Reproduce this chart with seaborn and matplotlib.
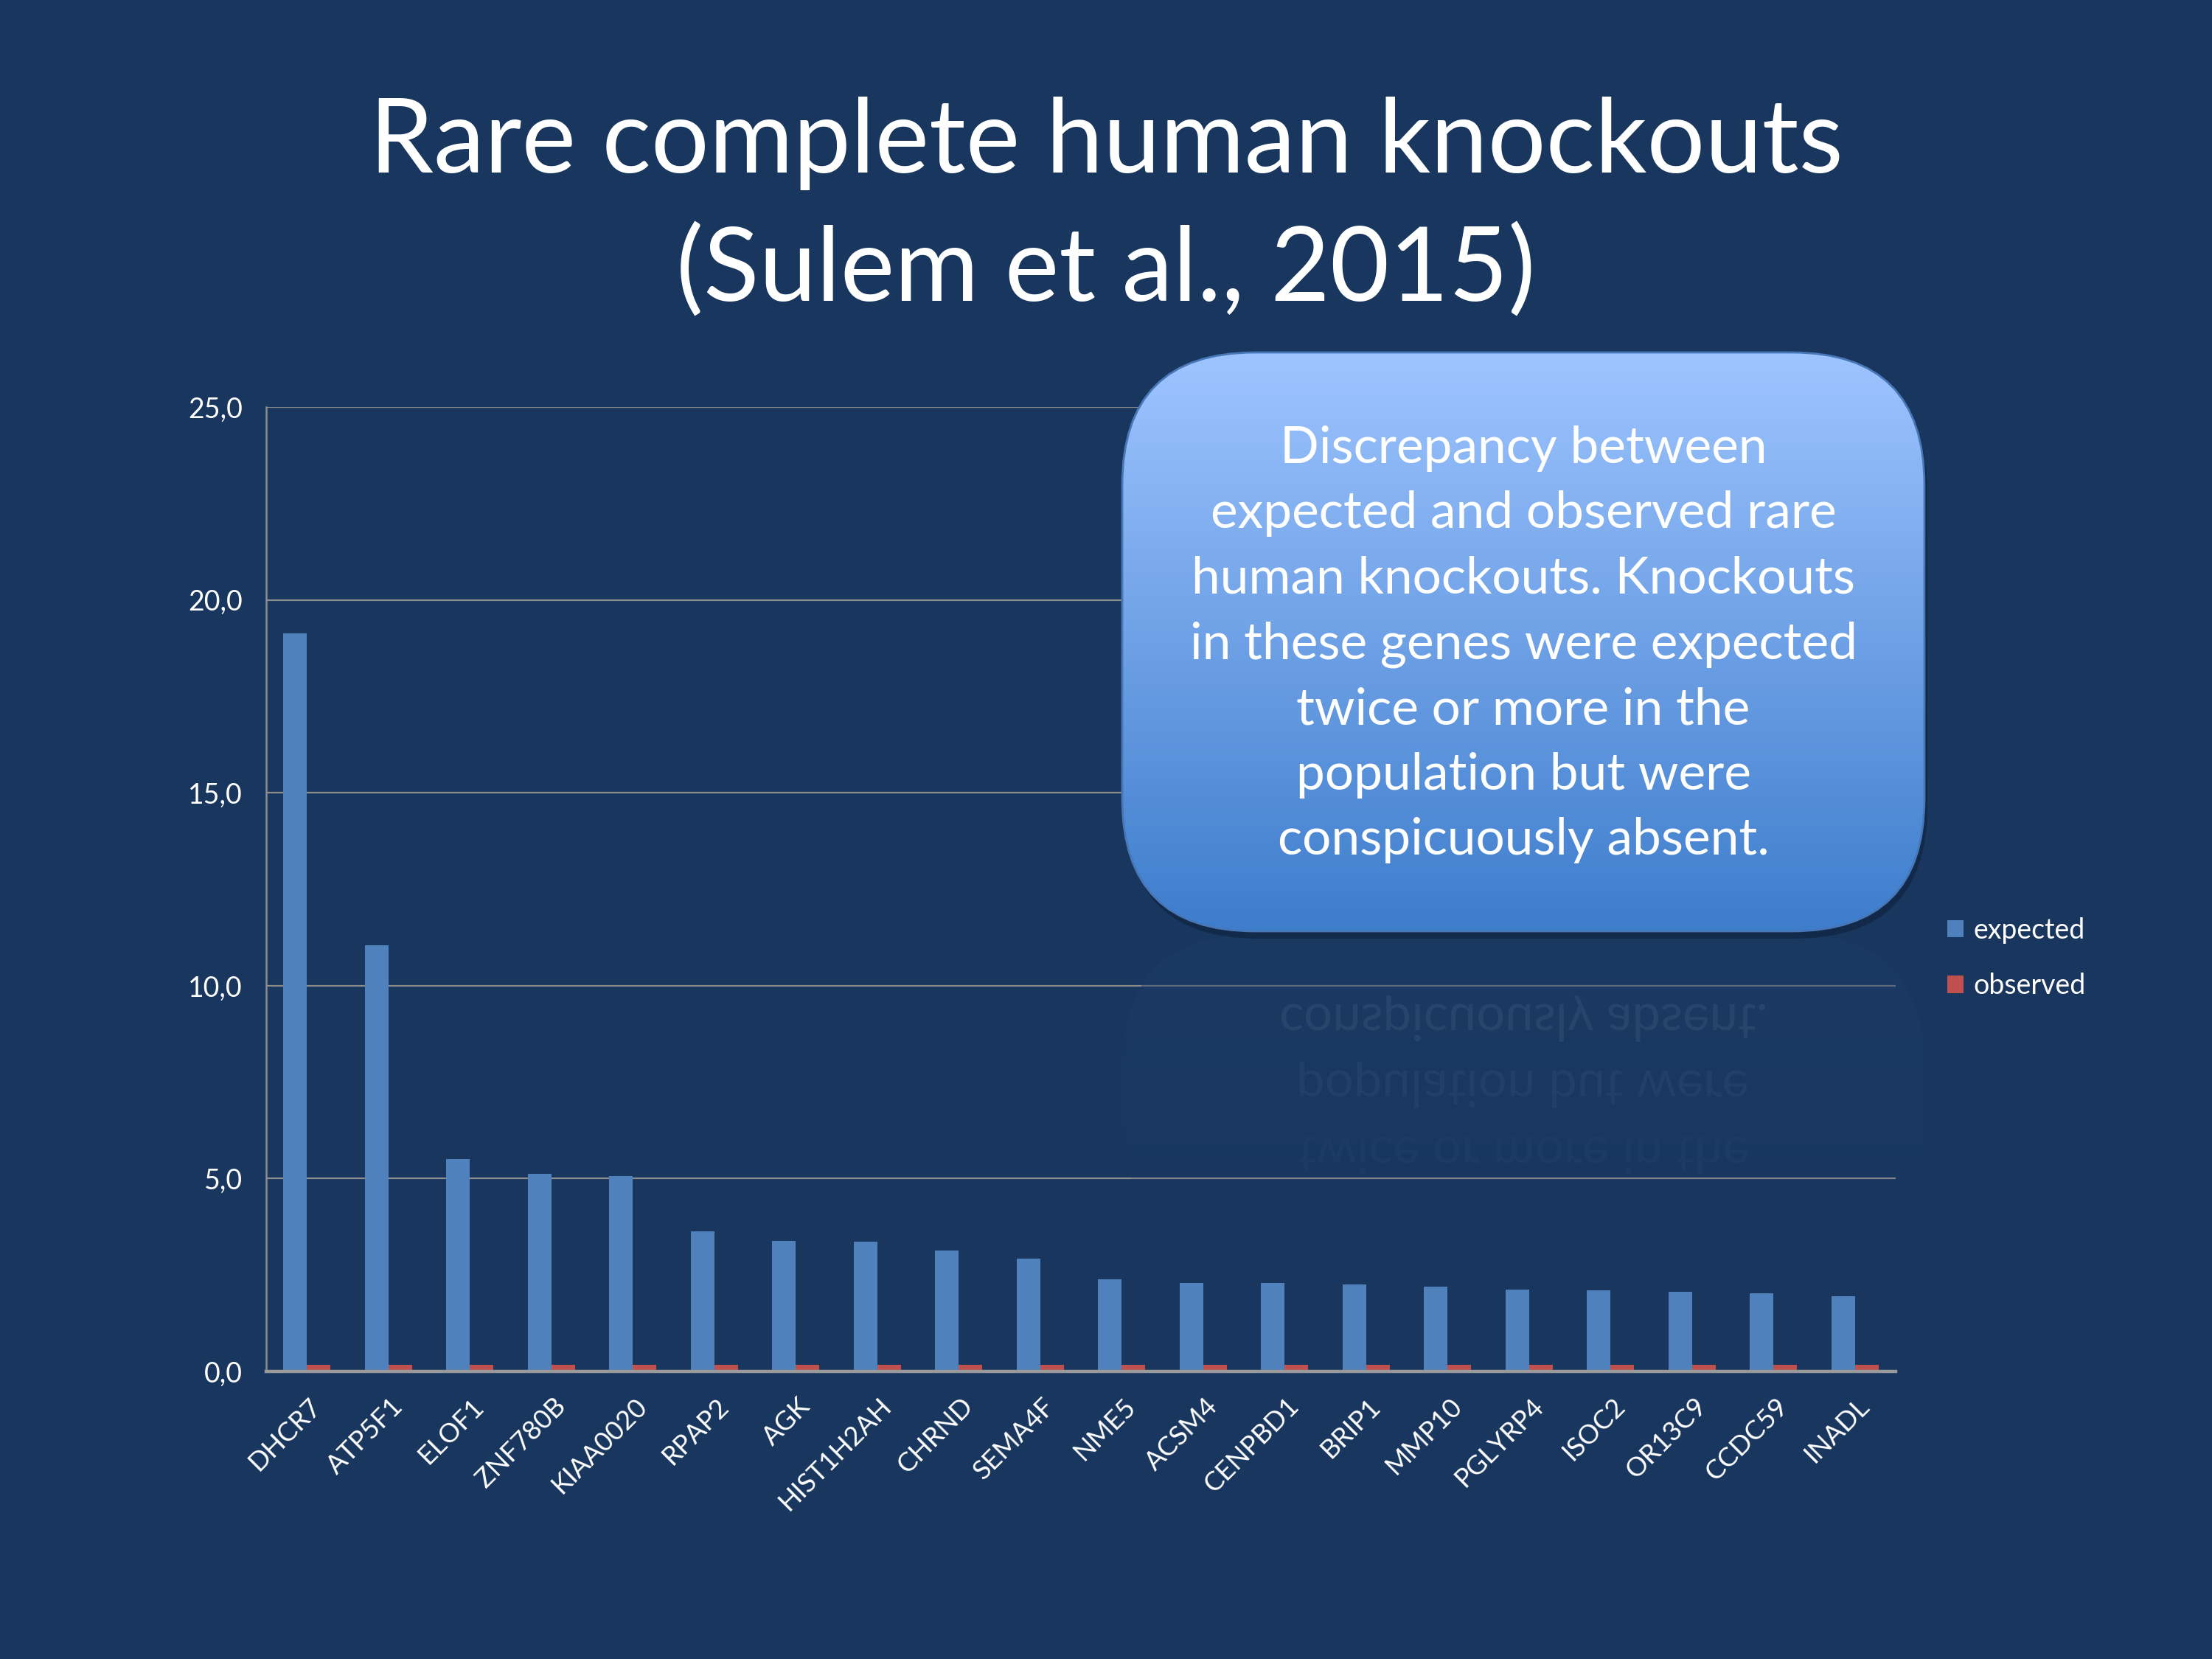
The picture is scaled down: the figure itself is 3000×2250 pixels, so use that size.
import numpy as np
import pandas as pd
import seaborn as sns
import matplotlib.pyplot as plt
from matplotlib.patches import FancyBboxPatch, Patch, PathPatch
from matplotlib.textpath import TextPath
from matplotlib.path import Path
from matplotlib.font_manager import FontProperties
from matplotlib.ticker import FuncFormatter, FixedLocator
from matplotlib.transforms import ScaledTranslation

# data
genes = ['DHCR7', 'ATP5F1', 'ELOF1', 'ZNF780B', 'KIAA0020', 'RPAP2', 'AGK',
         'HIST1H2AH', 'CHRND', 'SEMA4F', 'NME5', 'ACSM4', 'CENPBD1', 'BRIP1',
         'MMP10', 'PGLYRP4', 'ISOC2', 'OR13C9', 'CCDC59', 'INADL']
expected = [19.13, 11.05, 5.50, 5.12, 5.07, 3.64, 3.39, 3.36, 3.13, 2.93,
            2.38, 2.30, 2.29, 2.25, 2.20, 2.12, 2.10, 2.07, 2.02, 1.95]
observed = [0.18] * 20
series_names = ['expected', 'observed']
y_ticks = [0, 5, 10, 15, 20, 25]

title_text = 'Rare complete human knockouts\n(Sulem et al., 2015)'
box_lines = ['Discrepancy between', 'expected and observed rare',
             'human knockouts. Knockouts', 'in these genes were expected',
             'twice or more in the', 'population but were',
             'conspicuously absent.']

BG = '#18365e'
BLUE = '#4f81bd'
RED = '#c0504d'
GRID = '#8c8c8c'

df = pd.DataFrame({'gene': genes * 2,
                   'value': expected + observed,
                   'series': [series_names[0]] * 20 + [series_names[1]] * 20})

sns.set_style('white')
plt.rcParams['font.family'] = ['Lato', 'DejaVu Sans']

fig = plt.figure(figsize=(30, 22.5), dpi=100, facecolor=BG)
ax = fig.add_axes([361 / 3000, 1 - 1860 / 2250, 2210 / 3000, 1308 / 2250])
ax.set_facecolor(BG)

sns.barplot(data=df, x='gene', y='value', hue='series',
            palette=[BLUE, RED], width=0.58, gap=0, saturation=1,
            linewidth=0, edgecolor='none', ax=ax, legend=False, zorder=3)

ax.set_xlim(-0.5, len(genes) - 0.5)
ax.set_ylim(0, 25)
ax.yaxis.set_major_locator(FixedLocator(y_ticks))
ax.yaxis.set_major_formatter(FuncFormatter(lambda v, p: f'{v:.1f}'.replace('.', ',')))
ax.grid(axis='y', color=GRID, linewidth=1.6, zorder=0)
ax.set_axisbelow(True)
ax.set_xlabel('')
ax.set_ylabel('')

for s in ['top', 'right']:
    ax.spines[s].set_visible(False)
ax.spines['left'].set_color(GRID)
ax.spines['left'].set_linewidth(1.8)
ax.spines['bottom'].set_color('#9a9a9a')
ax.spines['bottom'].set_linewidth(3.2)
ax.spines['bottom'].set_zorder(4)

ax.tick_params(axis='y', colors=GRID, length=9, width=1.6, direction='out',
               labelcolor='white', labelsize=27, pad=14)
ax.set_xticks(np.arange(len(genes) + 1) - 0.5, minor=True)
ax.tick_params(axis='x', which='minor', colors=GRID, length=9, width=1.8,
               direction='out')
ax.tick_params(axis='x', which='major', length=0, labelcolor='white',
               labelsize=26, pad=30)
shift = ScaledTranslation(14 / 100, 0, fig.dpi_scale_trans)
for lab in ax.get_xticklabels():
    lab.set_rotation(45)
    lab.set_ha('right')
    lab.set_va('center')
    lab.set_rotation_mode('anchor')
    lab.set_transform(lab.get_transform() + shift)

# legend at the right
handles = [Patch(facecolor=BLUE, edgecolor='none'),
           Patch(facecolor=RED, edgecolor='none')]
fig.legend(handles, series_names, loc='upper left',
           bbox_to_anchor=(2622 / 3000, 1 - 1225 / 2250), frameon=False,
           fontsize=27, labelcolor='white', handlelength=0.6,
           handleheight=0.6, handletextpad=0.35, labelspacing=1.05,
           borderpad=0)

fig.text(0.5, 1 - 282 / 2250, title_text, ha='center', va='center',
         color='white', fontsize=100, linespacing=1.43)

# overlay in pixel coords for the callout box
ov = fig.add_axes([0, 0, 1, 1], zorder=5)
ov.patch.set_alpha(0)
ov.axis('off')

x0, x1, y0, y1 = 1522, 2610, 478, 1263
rad = 180

# reflection under the box
refl_h = 430
refl = FancyBboxPatch((x0, y1 + 4), x1 - x0, refl_h,
                      boxstyle=f'round,pad=0,rounding_size={rad}',
                      facecolor='none', edgecolor='none')
ov.add_patch(refl)
fade = np.zeros((128, 1, 4))
fade[:, 0, :3] = [0.12, 0.24, 0.40]
fade[:, 0, 3] = np.linspace(0.5, 0.0, 128)
im = ov.imshow(fade, extent=(x0, x1, y1 + 4 + refl_h, y1 + 4),
               origin='upper', aspect='auto', zorder=1)
im.set_clip_path(refl)

fp = FontProperties(family='Lato')
mirror_y = y1 - 2
for k, (line, a) in enumerate(zip(box_lines[::-1][:3], [0.10, 0.065, 0.035])):
    tp = TextPath((0, 0), line, size=69, prop=fp)
    ext = tp.get_extents()
    base = 1160 - k * 90
    verts = tp.vertices.copy()
    verts[:, 0] += 2066 - (ext.x0 + ext.x1) / 2
    verts[:, 1] += 2 * mirror_y - base
    pp = PathPatch(Path(verts, tp.codes), facecolor='#9fb3d0',
                   edgecolor='none', alpha=a, zorder=2)
    ov.add_patch(pp)
    pp.set_clip_path(refl)

# shadow
shadow = FancyBboxPatch((x0 + 4, y0 + 10), x1 - x0, y1 - y0,
                        boxstyle=f'round,pad=0,rounding_size={rad}',
                        facecolor='#0b1a30', edgecolor='none', alpha=0.45,
                        zorder=3)
ov.add_patch(shadow)

box = FancyBboxPatch((x0, y0), x1 - x0, y1 - y0,
                     boxstyle=f'round,pad=0,rounding_size={rad}',
                     facecolor='none', edgecolor='#4877b8', linewidth=2,
                     zorder=5)
ov.add_patch(box)
top_c = np.array([0.62, 0.77, 1.0])
bot_c = np.array([0.24, 0.49, 0.80])
t = np.linspace(0, 1, 256)[:, None]
grad = (top_c * (1 - t) + bot_c * t)[:, None, :]
gim = ov.imshow(grad, extent=(x0, x1, y1, y0), origin='upper',
                aspect='auto', zorder=4)
gim.set_clip_path(box)

ov.text(2066, 874, '\n'.join(box_lines), ha='center', va='center',
        color='white', fontsize=50, linespacing=1.5, zorder=6)

ov.set_xlim(0, 3000)
ov.set_ylim(2250, 0)

fig.savefig('out.png', dpi=100, facecolor=BG)
